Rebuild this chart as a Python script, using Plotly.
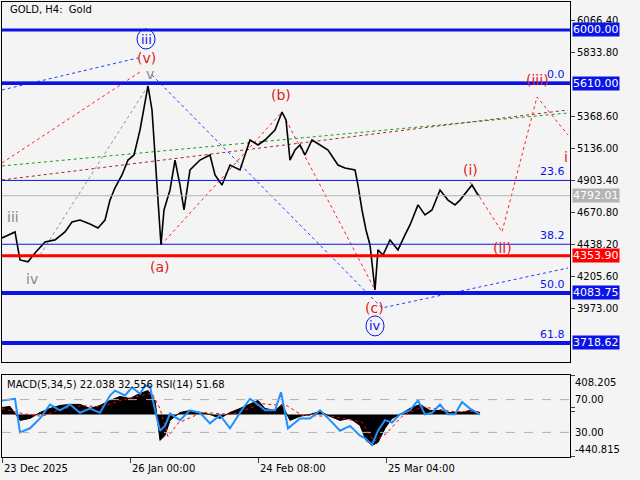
import plotly.graph_objects as go

# ---- data ----
price_idx = [0,13,18,26,33,43,53,63,70,78,88,96,103,108,113,120,126,132,138,143,146,150,153,156,159,162,168,173,178,182,188,198,208,213,220,228,238,248,256,263,273,280,284,288,293,298,303,310,318,326,336,343,353,356,360,364,368,373,376,381,388,396,403,408,416,423,430,438,446,453,458,466,470,476,478]
price_close = [4484,4528,4324,4310,4375,4455,4470,4528,4600,4615,4586,4557,4615,4760,4850,4943,5052,5089,5271,5490,5592,5417,5125,4760,4433,4688,4834,5052,4870,4688,4980,5052,5089,4943,4870,5016,4980,5198,5162,5198,5271,5402,5344,5052,5125,5162,5089,5198,5162,5125,5016,4994,4980,4870,4688,4542,4433,4105,4397,4360,4470,4397,4506,4579,4725,4652,4688,4834,4760,4725,4760,4834,4870,4797,4792]

macd_idx = [0,8,18,28,38,48,58,68,78,88,98,108,118,128,138,146,153,158,163,168,178,188,198,208,218,228,238,248,256,263,273,280,288,298,308,318,328,338,348,358,364,370,376,383,390,398,408,418,428,438,448,458,468,478]
macd_hist = [72,83,-62,-41,20,62,93,104,104,62,93,145,186,166,217,248,145,-269,-217,-62,20,41,20,0,-41,20,62,104,145,62,41,104,-62,-20,0,31,-20,-62,-41,-114,-269,-321,-290,-145,-41,0,62,104,41,41,20,20,41,20]
signal_idx = [0,20,40,60,80,100,120,140,150,158,166,176,200,230,260,285,300,330,360,372,384,400,420,450,478]
signal_val = [60,10,-20,60,90,80,150,200,220,60,-230,-90,20,0,110,90,-10,-20,-80,-280,-200,-20,80,30,30]

rsi_idx = [0,13,18,28,38,48,58,68,78,88,98,108,113,123,130,138,143,148,153,158,163,168,178,188,198,208,218,228,238,248,256,263,273,279,286,298,308,318,328,338,348,358,363,370,376,383,390,398,408,416,423,430,438,446,453,460,468,478]
rsi_val = [69,71,30,35,47,64,57,64,54,59,54,75,81,75,85,77,87,86,57,32,38,53,45,57,54,41,51,35,54,71,64,57,57,79,35,47,47,57,45,32,38,26,23,15,32,45,42,52,57,69,52,54,64,52,52,67,59,52]

levels = [6000.00, 5610.00, 4792.01, 4353.90, 4083.75, 3718.62]
level_colors = ["#0a14e6", "#0a14e6", "#b4b4b4", "#ff0000", "#0a14e6", "#0a14e6"]
fib_levels = [5610.00, 4903.40, 4438.20, 4083.75, 3718.62]
fib_labels = ["0.0", "23.6", "38.2", "50.0", "61.8"]
price_ticks = [6066.40, 5833.80, 5368.60, 5136.00, 4903.40, 4670.80, 4438.20, 4205.60, 3973.00]
date_idx = [0, 128, 256, 384]
date_labels = ["23 Dec 2025", "26 Jan 00:00", "24 Feb 08:00", "25 Mar 04:00"]

dotted = [
    ([0,136], [5563,5796], "#1e3cff"),
    ([150,380,566], [5672,3974,4265], "#1e3cff"),
    ([0,138], [5031,5694], "#ff2020"),
    ([159,280], [4433,5402], "#ff2020"),
    ([284,373], [5344,4105], "#ff2020"),
    ([468,500,535,566], [4892,4528,5512,5235], "#ff2020"),
    ([38,146], [4360,5592], "#909090"),
    ([0,566], [5009,5395], "#1a9a1a"),
    ([0,566], [4907,5417], "#a02828"),
]
wave_labels = [
    (144, 5796, "(v)", "#e02020"), (148, 5679, "v", "#8a8a8a"),
    (279, 5526, "(b)", "#e02020"), (158, 4272, "(a)", "#e02020"),
    (11, 4637, "iii", "#8a8a8a"), (30, 4185, "iv", "#8a8a8a"),
    (372, 3974, "(c)", "#e02020"), (468, 4980, "(i)", "#e02020"),
    (500, 4411, "(ii)", "#e02020"), (535, 5636, "(iii)", "#e02020"),
    (564, 5074, "i", "#e02020"),
]
circled = [(144, 5934, "iii"), (373, 3843, "iv")]

FONT = "DejaVu Sans"
fig = go.Figure()

for xs, ys, c in dotted:
    fig.add_trace(go.Scatter(x=xs, y=ys, mode="lines", line=dict(color=c, width=1, dash="dot"),
                             hoverinfo="skip", xaxis="x", yaxis="y"))

fig.add_trace(go.Scatter(x=price_idx, y=price_close, mode="lines",
                         line=dict(color="black", width=1.6), xaxis="x", yaxis="y"))

fig.add_trace(go.Scatter(x=macd_idx, y=macd_hist, mode="lines", fill="tozeroy",
                         fillcolor="black", line=dict(color="black", width=1), xaxis="x2", yaxis="y2"))
fig.add_trace(go.Scatter(x=signal_idx, y=signal_val, mode="lines",
                         line=dict(color="red", width=1, dash="dot"), xaxis="x2", yaxis="y2"))
fig.add_trace(go.Scatter(x=rsi_idx, y=rsi_val, mode="lines",
                         line=dict(color="#1e90ff", width=2), xaxis="x2", yaxis="y3"))

shapes = []
widths = [3, 3, 1, 3, 4, 4]
for lv, c, w in zip(levels, level_colors, widths):
    shapes.append(dict(type="line", xref="x domain", yref="y", x0=0, x1=1, y0=lv, y1=lv,
                       line=dict(color=c, width=w)))
shapes.append(dict(type="line", xref="x domain", yref="y", x0=0, x1=1, y0=5622, y1=5622,
                   line=dict(color="#0a14e6", width=1)))
for lv in [4903.40, 4438.20]:
    shapes.append(dict(type="line", xref="x domain", yref="y", x0=0, x1=1, y0=lv, y1=lv,
                       line=dict(color="#0a14e6", width=1)))
for lv in [70, 30]:
    shapes.append(dict(type="line", xref="x2 domain", yref="y3", x0=0, x1=1, y0=lv, y1=lv,
                       line=dict(color="#b0b0b0", width=1, dash="dash")))
for cx, cy, t in circled:
    shapes.append(dict(type="circle", xref="x", yref="y", xsizemode="pixel", ysizemode="pixel",
                       xanchor=cx, yanchor=cy, x0=-9, x1=9, y0=-10, y1=10,
                       line=dict(color="#0a14e6", width=1)))

ann = []
ann.append(dict(text="GOLD, H4:  Gold", xref="paper", yref="paper", x=0.01, y=1.0,
                xanchor="left", yanchor="top", showarrow=False, font=dict(size=10, color="black")))
for lv, c in zip(levels, level_colors):
    ann.append(dict(text=f"{lv:.2f}", xref="paper", yref="y", x=1.0, y=lv, xanchor="left",
                    showarrow=False, bgcolor=c, font=dict(size=11, color="white"), borderpad=0,
                    xshift=2))
for lv, t in zip(fib_levels, fib_labels):
    ann.append(dict(text=t, xref="paper", yref="y", x=0.995, y=lv, xanchor="right", yanchor="bottom",
                    showarrow=False, font=dict(size=11, color="#0a14e6")))
for x, y, t, c in wave_labels:
    ann.append(dict(text=t, x=x, y=y, xref="x", yref="y", showarrow=False, font=dict(size=14, color=c)))
for x, y, t in circled:
    ann.append(dict(text=t, x=x, y=y, xref="x", yref="y", showarrow=False, font=dict(size=13, color="#0a14e6")))
ann.append(dict(text="MACD(5,34,5) 22.038 32.556 RSI(14) 51.68", xref="x2 domain", yref="y2 domain",
                x=0.005, y=0.97, xanchor="left", yanchor="top", showarrow=False,
                font=dict(size=10, color="black")))
for d, t in zip(date_idx, date_labels):
    ann.append(dict(text=t, x=d, xref="x2", yref="paper", y=0, yshift=-4, xanchor="left", yanchor="top",
                    showarrow=False, font=dict(size=10, color="black")))
for v, t in [(408.205, "408.205"), (-440.815, "-440.815")]:
    ann.append(dict(text=t, xref="paper", yref="y2", x=1.0, y=v, xanchor="left", yanchor="top" if v > 0 else "bottom",
                    showarrow=False, font=dict(size=10, color="black"), xshift=3))
for v in [70, 30]:
    ann.append(dict(text=f"{v:.2f}", xref="paper", yref="y3", x=1.0, y=v, xanchor="left",
                    showarrow=False, font=dict(size=10, color="black"), xshift=3))

ax = dict(showgrid=False, zeroline=False, showline=True, mirror=True, linecolor="black", linewidth=1)
fig.update_layout(
    width=640, height=480, margin=dict(l=2, r=70, t=2, b=23),
    paper_bgcolor="#f4f4f4", plot_bgcolor="#f4f4f4", showlegend=False,
    font=dict(family=FONT, size=10, color="black"),
    shapes=shapes, annotations=ann,
    xaxis=dict(**ax, range=[0, 568], domain=[0, 1], anchor="y", showticklabels=False, ticks=""),
    xaxis2=dict(**ax, range=[0, 568], domain=[0, 1], anchor="y2", matches="x",
                tickvals=date_idx, ticks="outside", ticklen=5, showticklabels=False),
    yaxis=dict(**ax, range=[3580, 6204], domain=[0.2088, 1], side="right",
               tickvals=price_ticks, ticktext=[f"{v:.2f}" for v in price_ticks],
               ticks="outside", ticklen=4, tickfont=dict(size=10)),
    yaxis2=dict(**ax, range=[-440.815, 408.205], domain=[0, 0.1802], side="right",
                tickvals=[408.205, 70, 30, -440.815], ticks="outside", ticklen=4, showticklabels=False),
    yaxis3=dict(range=[0, 100], overlaying="y2", showgrid=False, zeroline=False,
                showticklabels=False, ticks=""),
)
fig.write_html("out.html", config={"displayModeBar": False},
               post_script="document.body.style.margin='0';document.body.style.background='#f4f4f4';")
